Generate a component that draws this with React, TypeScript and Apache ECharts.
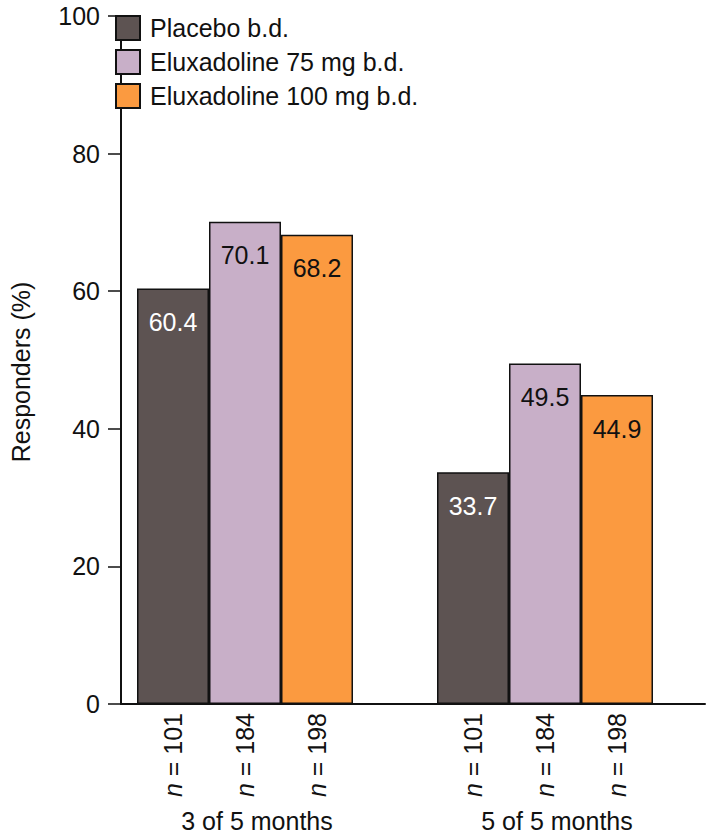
import React, { useEffect, useRef } from "react";
import * as echarts from "echarts";

const categories = ["3 of 5 months", "5 of 5 months"];
const seriesNames = ["Placebo b.d.", "Eluxadoline 75 mg b.d.", "Eluxadoline 100 mg b.d."];
const placeboValues = [60.4, 33.7];
const elux75Values = [70.1, 49.5];
const elux100Values = [68.2, 44.9];
const placeboN = [101, 101];
const elux75N = [184, 184];
const elux100N = [198, 198];
const yTicks = [0, 20, 40, 60, 80, 100];

const FONT = "'Liberation Sans', Arial, Helvetica, sans-serif";
const colors = ["#5d5352", "#c8afc8", "#fb9a40"];
const labelColors = ["#ffffff", "#111111", "#111111"];

export default function App() {
  const ref = useRef<HTMLDivElement>(null);
  useEffect(() => {
    document.body.style.margin = "0";
    const chart = echarts.init(ref.current!, null, { renderer: "svg" });
    const values = [placeboValues, elux75Values, elux100Values];
    const ns = [placeboN, elux75N, elux100N];
    const series: any[] = [];
    values.forEach((vals, i) => {
      series.push({
        type: "bar",
        name: "n-" + i,
        xAxisIndex: 0,
        yAxisIndex: 0,
        stack: "s" + i,
        barWidth: 72,
        barGap: "0%",
        data: ns[i].map(() => 0),
        itemStyle: { color: "rgba(0,0,0,0)", borderWidth: 0 },
        label: {
          show: true,
          position: "bottom",
          distance: 9,
          rotate: 90,
          align: "right",
          verticalAlign: "middle",
          formatter: (p: any) => "{i|n} = " + ns[i][p.dataIndex],
          rich: {
            i: { fontStyle: "italic", fontSize: 25, fontFamily: FONT, color: "#111" },
          },
          fontSize: 25,
          fontFamily: FONT,
          color: "#111",
        },
        silent: true,
      });
      series.push({
        type: "bar",
        name: seriesNames[i],
        xAxisIndex: 0,
        yAxisIndex: 0,
        stack: "s" + i,
        barWidth: 72,
        barGap: "0%",
        data: vals,
        itemStyle: { color: colors[i], borderColor: "#111", borderWidth: 1.5 },
        label: {
          show: true,
          position: "insideTop",
          distance: 21,
          fontSize: 25,
          fontFamily: FONT,
          color: labelColors[i],
          formatter: (p: any) => p.value.toFixed(1),
        },
      });
    });
    chart.setOption({
      animation: false,
      textStyle: { fontFamily: FONT },
      legend: {
        data: seriesNames,
        orient: "vertical",
        left: 110,
        top: 10,
        itemWidth: 24,
        itemHeight: 24,
        itemGap: 8,
        icon: "rect",
        textStyle: { fontSize: 25, fontFamily: FONT, color: "#111", padding: [0, 0, 0, 5] },
        selectedMode: false,
      },
      grid: [
        { left: 95, width: 600, top: 16, height: 688 },
        { left: 101, width: 604, top: 16, height: 688 },
      ],
      xAxis: [
        {
          type: "category",
          gridIndex: 0,
          data: categories,
          axisLine: { show: false },
          axisTick: { show: false },
          axisLabel: {
            fontSize: 25,
            fontFamily: FONT,
            color: "#111",
            margin: 104,
            padding: [0, 0, 0, 24],
          },
        },
        {
          type: "value",
          gridIndex: 1,
          min: 0,
          max: 1,
          axisLine: { show: true, lineStyle: { color: "#111", width: 2 } },
          axisTick: { show: false },
          axisLabel: { show: false },
          splitLine: { show: false },
        },
      ],
      yAxis: [
        {
          type: "value",
          gridIndex: 0,
          min: 0,
          max: 100,
          interval: 20,
          show: false,
          splitLine: { show: false },
        },
        {
          type: "value",
          gridIndex: 1,
          min: yTicks[0],
          max: yTicks[yTicks.length - 1],
          interval: 20,
          name: "Responders (%)",
          nameLocation: "middle",
          nameGap: 88,
          nameTextStyle: { fontSize: 25, fontFamily: FONT, color: "#111", padding: [0, 24, 0, 0] },
          axisLine: { show: true, lineStyle: { color: "#111", width: 2 } },
          axisTick: { show: true, length: 13, lineStyle: { color: "#111", width: 1.5 } },
          axisLabel: { fontSize: 25, fontFamily: FONT, color: "#111", margin: 21 },
          splitLine: { show: false },
        },
      ],
      series,
    });
    return () => chart.dispose();
  }, []);
  return <div ref={ref} style={{ width: 709, height: 835 }} />;
}
